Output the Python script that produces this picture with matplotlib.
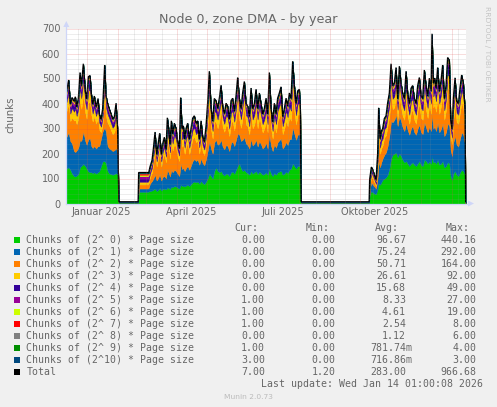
import matplotlib
matplotlib.use("Agg")
import matplotlib.pyplot as plt
import numpy as np
from matplotlib.patches import Rectangle, Polygon
from matplotlib.lines import Line2D

plt.rcParams['lines.scale_dashes'] = False

# ---------------- data (x = days since 11 Dec 2024) ----------------
DAYS = [0, 2.3, 4, 5.7, 7.7, 9, 10.3, 12, 13.7, 15, 17, 19, 20.3, 22, 23.7, 25, 26.3, 28, 29.7, 31.7,
        33, 34.7, 36.3, 38.3, 39.7, 41.3, 43, 44.7, 46.3, 48, 49.7, 51.3,
        52.5, 71.8,
        72.3, 81.5,
        82.3, 83.7, 85.7, 87, 88.7, 90.3, 92, 93.3, 95, 96.3, 98, 99.7, 101, 102.3, 103.7, 105, 106.3, 108,
        109.7, 111.3, 113, 114.3, 115.7, 117, 118.3, 119.7, 121.3, 123, 124.7, 126.3, 128, 129.7, 131.3, 133,
        134.7, 136.3, 138, 139.7, 141.3, 143, 144.7, 146.3, 148, 149.7, 151.3, 153, 154.7, 156.3, 158, 159.7,
        161.3, 163, 164.7, 166.3, 168, 169.7, 171.3, 173, 174.7, 176.3, 178, 179.7, 181.3, 183, 184.7, 186.3,
        188, 189.7, 191.3, 193, 194.7, 196.3, 198, 199.7, 201.3, 203, 204.7, 206.3, 208, 209.7, 211.3, 213,
        214.7, 216.3, 218, 219.7, 221.3, 223, 224.7, 226.3, 228, 229.7, 231.3, 233, 234,
        234.8, 302.8,
        303.3, 305, 306.3, 308, 309.7, 311.3, 312.3, 313.7, 315, 316.3, 318, 319.7, 321.3, 323, 324.7, 326.3,
        328, 329.7, 331.3, 333, 334.7, 336.3, 338, 339.7, 341.3, 343, 344.7, 346.3, 348, 349.7, 351.3, 353,
        354.7, 356.3, 358, 359.7, 361.3, 363, 364.7, 365.7, 367, 368.3, 369.7, 371.3, 373, 374.7, 376.3, 378,
        379.7, 381.3, 383, 384.3, 385.7, 387, 388.7, 390.3, 392, 393.7, 395.3, 397, 398.7,
        399.3, 400]

P0 = [140, 145, 135, 120, 110, 108, 112, 118, 145, 150, 158, 150, 140, 128, 125, 125, 122, 125, 120, 125,
      130, 150, 168, 170, 160, 130, 120, 118, 115, 118, 122, 115,
      0, 0, 47, 47,
      48, 50, 52, 55, 60, 50, 55, 62, 52, 58, 60, 56, 65, 62, 58, 68, 65, 70, 68, 64,
      60, 75, 70, 72, 68, 72, 75, 70, 78, 85, 88, 85, 88, 80, 90, 82, 78, 88, 100, 120,
      110, 100, 130, 145, 130, 125, 130, 118, 112, 120, 118, 110, 125, 128, 120, 135, 150, 160, 140, 130,
      135, 125, 122, 115, 130, 120, 125, 130, 118, 128, 122, 115, 118, 125, 115, 140, 120, 110, 122, 115,
      125, 128, 132, 115, 120, 128, 122, 135, 140, 160, 150, 140, 150, 150, 140,
      0, 0,
      35, 50, 45, 40, 38, 60, 80, 75, 85, 95, 100, 105, 115, 140, 180, 195, 200, 205, 185, 200,
      190, 175, 165, 170, 160, 150, 160, 165, 155, 150, 160, 170, 155, 150, 175, 170, 160, 168, 160, 190,
      165, 168, 160, 175, 155, 160, 170, 145, 150, 165, 160, 110, 95, 120, 130, 115, 110, 125, 135, 130,
      115,
      0, 0]

P1 = [125, 140, 115, 120, 100, 98, 100, 105, 110, 100, 130, 100, 95, 130, 135, 105, 100, 105, 100, 105,
      100, 110, 120, 135, 125, 100, 100, 98, 95, 95, 100, 85,
      0, 0, 13, 13,
      14, 30, 38, 45, 55, 42, 48, 55, 40, 48, 50, 45, 70, 62, 50, 68, 60, 65, 62, 55,
      50, 85, 68, 70, 62, 70, 75, 65, 75, 85, 90, 85, 88, 75, 90, 80, 75, 90, 110, 130,
      110, 100, 115, 110, 105, 115, 125, 110, 105, 115, 112, 100, 118, 120, 110, 120, 130, 115, 110, 125,
      130, 115, 112, 105, 128, 112, 115, 125, 110, 122, 115, 105, 110, 118, 105, 135, 112, 100, 115, 108,
      120, 125, 128, 105, 110, 118, 112, 122, 118, 145, 130, 115, 125, 128, 110,
      0, 0,
      20, 35, 32, 28, 22, 45, 90, 70, 80, 85, 95, 100, 115, 130, 150, 130, 135, 150, 125, 150,
      140, 130, 125, 150, 135, 125, 140, 145, 130, 125, 140, 145, 130, 128, 150, 135, 125, 140, 130, 170,
      135, 140, 130, 150, 130, 138, 150, 125, 135, 155, 150, 105, 95, 125, 140, 120, 118, 135, 150, 145,
      120,
      0, 0]

P2 = [102, 116, 80, 104, 122, 128, 106, 118, 158, 129, 151, 113, 104, 145, 148, 126, 106, 120, 100, 112,
      65, 25, 32, 134, 64, 93, 90, 77, 67, 73, 98, 45,
      0, 0, 16, 16,
      19, 25, 35, 63, 97, 56, 80, 93, 56, 74, 88, 64, 118, 101, 72, 111, 87, 105, 95, 69,
      60, 153, 89, 93, 68, 87, 94, 63, 79, 90, 90, 75, 77, 45, 75, 46, 41, 61, 99, 155,
      77, 60, 85, 70, 66, 90, 116, 80, 70, 80, 79, 60, 81, 83, 63, 85, 115, 60, 53, 92,
      119, 76, 75, 57, 105, 69, 76, 104, 73, 97, 79, 64, 73, 88, 64, 135, 69, 50, 79, 61,
      86, 94, 107, 57, 71, 85, 75, 90, 73, 141, 91, 61, 80, 81, 51,
      0, 0,
      11, 24, 23, 17, 9, 43, 121, 53, 57, 52, 70, 68, 84, 79, 111, 52, 50, 77, 29, 86,
      55, 46, 45, 96, 55, 44, 67, 65, 50, 44, 74, 84, 57, 57, 96, 70, 57, 91, 69, 170,
      84, 91, 77, 106, 74, 93, 118, 65, 90, 142, 145, 55, 46, 90, 129, 91, 91, 107, 121, 107,
      67,
      0, 0]

P3 = [35, 40, 30, 38, 35, 45, 32, 36, 50, 42, 55, 40, 38, 48, 48, 38, 32, 36, 30, 35,
      28, 22, 25, 50, 35, 34, 30, 28, 26, 27, 35, 22,
      0, 0, 11, 11,
      11, 15, 18, 22, 30, 20, 25, 30, 20, 24, 28, 22, 38, 32, 24, 36, 28, 34, 32, 25,
      22, 50, 30, 32, 25, 30, 32, 25, 28, 34, 35, 32, 33, 24, 32, 25, 22, 30, 40, 55,
      36, 30, 40, 38, 35, 40, 45, 36, 32, 38, 36, 30, 38, 40, 34, 40, 48, 38, 34, 42,
      46, 37, 36, 32, 44, 35, 37, 43, 35, 42, 37, 33, 35, 40, 33, 50, 35, 30, 37, 33,
      40, 42, 44, 32, 35, 40, 36, 42, 40, 55, 45, 37, 43, 43, 35,
      0, 0,
      10, 14, 13, 11, 9, 20, 40, 25, 28, 28, 32, 33, 38, 40, 52, 42, 43, 50, 36, 50,
      43, 40, 38, 50, 40, 36, 42, 43, 38, 36, 44, 46, 40, 38, 50, 43, 40, 46, 41, 65,
      44, 46, 42, 50, 41, 45, 51, 38, 43, 54, 53, 30, 27, 38, 46, 37, 36, 42, 47, 44,
      34,
      0, 0]

P4 = [22, 28, 20, 22, 22, 24, 20, 22, 32, 26, 35, 25, 22, 30, 30, 24, 20, 23, 20, 22,
      18, 15, 16, 35, 24, 22, 20, 19, 18, 18, 24, 15,
      0, 0, 13, 13,
      13, 12, 14, 16, 22, 14, 18, 20, 14, 17, 19, 15, 26, 22, 17, 25, 20, 24, 22, 18,
      15, 32, 22, 22, 18, 21, 23, 18, 20, 24, 25, 22, 23, 17, 22, 18, 16, 21, 28, 38,
      25, 20, 27, 25, 23, 27, 30, 24, 21, 25, 24, 20, 26, 26, 22, 27, 32, 25, 22, 28,
      31, 25, 24, 21, 29, 23, 25, 29, 23, 28, 25, 22, 23, 26, 22, 34, 23, 20, 25, 22,
      26, 28, 30, 21, 23, 26, 24, 28, 26, 37, 30, 25, 29, 29, 23,
      0, 0,
      8, 10, 10, 8, 7, 14, 26, 18, 20, 20, 22, 23, 26, 28, 36, 28, 29, 33, 24, 34,
      29, 27, 25, 34, 27, 24, 28, 29, 25, 24, 29, 31, 26, 25, 34, 29, 26, 31, 27, 45,
      29, 31, 28, 34, 27, 30, 35, 25, 29, 37, 36, 20, 18, 25, 31, 25, 24, 28, 32, 30,
      23,
      0, 0]

P5 = [10, 12, 9, 10, 10, 11, 9, 10, 14, 12, 15, 11, 10, 13, 13, 11, 9, 10, 9, 10,
      8, 7, 8, 15, 11, 10, 9, 9, 8, 8, 10, 7,
      1, 1, 9, 9,
      9, 7, 7, 8, 10, 7, 8, 9, 7, 8, 9, 7, 12, 10, 8, 11, 9, 11, 10, 8,
      7, 14, 10, 10, 8, 9, 10, 8, 9, 11, 11, 10, 10, 8, 10, 8, 7, 9, 12, 16,
      11, 9, 12, 11, 10, 12, 13, 11, 9, 11, 10, 9, 11, 12, 10, 12, 14, 11, 10, 12,
      13, 11, 10, 9, 13, 10, 11, 13, 10, 12, 11, 10, 10, 12, 10, 15, 10, 9, 11, 10,
      12, 12, 13, 9, 10, 12, 10, 12, 12, 16, 13, 11, 12, 13, 10,
      1, 1,
      5, 6, 6, 5, 4, 7, 12, 8, 9, 9, 10, 10, 11, 12, 15, 12, 12, 14, 10, 14,
      12, 11, 11, 14, 12, 10, 12, 12, 11, 10, 12, 13, 11, 11, 14, 12, 11, 13, 12, 19,
      12, 13, 12, 14, 12, 13, 15, 11, 12, 16, 15, 9, 8, 11, 13, 11, 10, 12, 14, 13,
      10,
      1, 1]

P6 = [6, 7, 5, 6, 6, 7, 5, 6, 8, 7, 8, 6, 6, 7, 7, 6, 5, 6, 5, 6,
      5, 4, 5, 8, 6, 6, 5, 5, 5, 5, 6, 4,
      1, 1, 6, 6,
      4, 4, 5, 5, 6, 4, 5, 6, 4, 5, 5, 4, 7, 6, 5, 6, 5, 6, 6, 5,
      4, 8, 6, 6, 5, 6, 6, 5, 6, 6, 6, 6, 6, 5, 6, 5, 5, 6, 7, 8,
      6, 6, 7, 6, 6, 7, 7, 6, 6, 6, 6, 5, 6, 6, 6, 7, 8, 6, 6, 7,
      7, 6, 6, 5, 7, 6, 6, 7, 6, 7, 6, 5, 6, 6, 5, 8, 6, 5, 6, 5,
      6, 7, 7, 5, 6, 6, 6, 7, 6, 8, 7, 6, 7, 7, 6,
      1, 1,
      3, 4, 4, 3, 3, 5, 7, 5, 6, 6, 6, 6, 7, 7, 8, 7, 7, 8, 6, 8,
      7, 7, 6, 8, 7, 6, 7, 7, 6, 6, 7, 8, 7, 6, 8, 7, 6, 7, 7, 10,
      7, 7, 7, 8, 6, 7, 8, 6, 7, 8, 8, 5, 5, 6, 7, 6, 6, 7, 8, 7,
      6,
      1, 1]

P7 = [3, 3, 3, 3, 3, 3, 2, 3, 4, 3, 4, 3, 3, 3, 3, 3, 2, 3, 2, 3,
      2, 2, 2, 4, 3, 3, 3, 3, 2, 2, 3, 2,
      1, 1, 5, 5,
      2, 2, 2, 3, 3, 2, 3, 3, 2, 3, 3, 2, 4, 3, 2, 3, 3, 3, 3, 2,
      2, 4, 3, 3, 3, 3, 3, 2, 3, 3, 3, 3, 3, 2, 3, 2, 2, 3, 3, 4,
      3, 3, 3, 3, 3, 3, 4, 3, 3, 3, 3, 3, 3, 3, 3, 3, 4, 3, 3, 3,
      4, 3, 3, 3, 3, 3, 3, 3, 3, 3, 3, 3, 3, 3, 3, 4, 3, 2, 3, 3,
      3, 3, 3, 3, 3, 3, 3, 3, 3, 4, 4, 3, 3, 3, 3,
      1, 1,
      2, 2, 2, 2, 2, 3, 4, 3, 3, 3, 3, 3, 3, 3, 4, 3, 3, 4, 3, 4,
      3, 3, 3, 4, 3, 3, 3, 3, 3, 3, 3, 4, 3, 3, 4, 3, 3, 3, 3, 5,
      3, 3, 3, 4, 3, 3, 4, 3, 3, 4, 4, 3, 3, 3, 4, 3, 3, 4, 4, 4,
      3,
      1, 1]

P8 = [2, 2, 1, 1, 1, 2, 1, 1, 2, 2, 2, 1, 1, 2, 2, 1, 1, 1, 1, 1,
      1, 1, 1, 2, 2, 1, 1, 1, 1, 1, 2, 1,
      0, 0, 2, 2,
      1, 1, 1, 1, 2, 1, 1, 2, 1, 1, 2, 1, 2, 2, 1, 2, 1, 2, 2, 1,
      1, 2, 1, 2, 1, 1, 2, 1, 1, 2, 2, 2, 2, 1, 2, 1, 1, 1, 2, 2,
      2, 1, 1, 2, 2, 1, 2, 1, 1, 2, 1, 1, 2, 2, 1, 1, 2, 2, 1, 2,
      2, 1, 2, 1, 2, 1, 1, 2, 1, 2, 1, 1, 1, 2, 1, 2, 1, 1, 2, 1,
      2, 2, 2, 1, 1, 2, 1, 2, 1, 2, 2, 2, 1, 2, 2,
      0, 0,
      1, 1, 1, 1, 1, 1, 2, 1, 1, 1, 1, 2, 2, 2, 2, 2, 2, 2, 1, 2,
      2, 1, 1, 2, 2, 1, 1, 2, 1, 1, 2, 2, 1, 1, 2, 2, 1, 2, 1, 3,
      2, 2, 1, 2, 1, 2, 2, 1, 2, 2, 2, 1, 1, 1, 2, 1, 1, 2, 2, 2,
      1,
      0, 0]

P9 = [1, 1, 1, 0, 1, 1, 0, 1, 1, 1, 1, 1, 0, 1, 1, 1, 0, 1, 0, 1,
      1, 0, 1, 1, 1, 1, 0, 1, 1, 0, 1, 0,
      1, 1, 1, 1,
      1, 1, 1, 0, 1, 0, 1, 1, 0, 1, 1, 0, 1, 1, 0, 1, 1, 1, 1, 0,
      0, 1, 1, 1, 0, 1, 1, 0, 1, 1, 1, 1, 1, 0, 1, 0, 0, 1, 1, 1,
      1, 1, 0, 1, 1, 1, 1, 0, 1, 1, 1, 0, 1, 1, 1, 0, 1, 1, 1, 1,
      1, 1, 0, 1, 1, 1, 0, 1, 1, 1, 1, 0, 1, 1, 0, 1, 1, 0, 1, 1,
      1, 1, 1, 0, 1, 1, 1, 1, 1, 1, 1, 1, 0, 1, 0,
      1, 1,
      0, 0, 1, 0, 0, 1, 1, 1, 1, 0, 1, 1, 1, 1, 1, 1, 1, 1, 0, 1,
      1, 1, 1, 1, 0, 1, 1, 1, 1, 1, 0, 1, 1, 1, 1, 1, 1, 0, 1, 2,
      1, 1, 1, 1, 0, 1, 1, 1, 1, 1, 1, 0, 0, 1, 1, 1, 1, 1, 1, 1,
      0,
      1, 1]

P10 = [0, 0, 0, 0, 0, 0, 0, 0, 0, 0, 0, 0, 0, 0, 0, 0, 0, 0, 0, 0,
       0, 0, 0, 0, 0, 0, 0, 0, 0, 0, 0, 0,
       3, 3, 1, 1,
       0, 0, 0, 0, 0, 0, 0, 0, 0, 0, 0, 0, 0, 0, 0, 0, 0, 0, 0, 0,
       0, 0, 0, 0, 0, 0, 0, 0, 0, 0, 0, 0, 0, 0, 0, 0, 0, 0, 0, 0,
       0, 0, 0, 0, 0, 0, 0, 0, 0, 0, 0, 0, 0, 0, 0, 0, 0, 0, 0, 0,
       0, 0, 0, 0, 0, 0, 0, 0, 0, 0, 0, 0, 0, 0, 0, 0, 0, 0, 0, 0,
       0, 0, 0, 0, 0, 0, 0, 0, 0, 0, 0, 0, 0, 0, 0,
       3, 3,
       0, 0, 0, 0, 0, 0, 0, 0, 0, 0, 0, 0, 0, 0, 0, 0, 0, 0, 0, 0,
       0, 0, 0, 0, 0, 0, 0, 0, 0, 0, 0, 0, 0, 0, 0, 0, 0, 0, 0, 0,
       0, 0, 0, 0, 0, 0, 0, 0, 0, 0, 0, 0, 0, 0, 0, 0, 0, 0, 0, 0,
       0,
       3, 3]

SERIES_LABELS = ["Chunks of (2^ 0) * Page size", "Chunks of (2^ 1) * Page size",
                 "Chunks of (2^ 2) * Page size", "Chunks of (2^ 3) * Page size",
                 "Chunks of (2^ 4) * Page size", "Chunks of (2^ 5) * Page size",
                 "Chunks of (2^ 6) * Page size", "Chunks of (2^ 7) * Page size",
                 "Chunks of (2^ 8) * Page size", "Chunks of (2^ 9) * Page size",
                 "Chunks of (2^10) * Page size", "Total"]
CUR = ["0.00", "0.00", "0.00", "0.00", "0.00", "1.00", "1.00", "1.00", "0.00", "1.00", "3.00", "7.00"]
MIN = ["0.00"] * 11 + ["1.20"]
AVG = ["96.67", "75.24", "50.71", "26.61", "15.68", "8.33", "4.61", "2.54", "1.12", "781.74m", "716.86m", "283.00"]
MAX = ["440.16", "292.00", "164.00", "92.00", "49.00", "27.00", "19.00", "8.00", "6.00", "4.00", "3.00", "966.68"]

MONTH_DAYS = [21, 52, 80, 111, 141, 172, 202, 233, 264, 294, 325, 355, 386]
MINOR_DAYS = [12, 40, 68, 96, 125, 153, 181, 222, 250, 279, 307, 335, 364, 392]
XLABELS = ["Januar 2025", "April 2025", "Juli 2025", "Oktober 2025"]
XLABEL_DAYS = [35, 125, 216, 308]

COLORS = ['#00CC00', '#0066B3', '#FF8000', '#FFCC00', '#330099', '#990099',
          '#CCFF00', '#FF0000', '#808080', '#008F00', '#00487D', '#000000']

# ---------------- figure ----------------
W, H, DPI = 497, 407, 100
FC = '#666666'
fig = plt.figure(figsize=(W / DPI, H / DPI), dpi=DPI, facecolor='#F0F0F0')


def fx(px):
    return px / W


def fy(py):
    return 1 - py / H


AX_L, AX_R, AX_T, AX_B = 66.3, 466.3, 28.5, 203.5
ax = fig.add_axes([fx(AX_L), fy(AX_B), (AX_R - AX_L) / W, (AX_B - AX_T) / H])
ax.set_xlim(0, 400)
ax.set_ylim(0, 700)
ax.set_facecolor('white')
for s in ax.spines.values():
    s.set_visible(False)

layers = [P0, P1, P2, P3, P4, P5, P6, P7, P8, P9, P10]
days = np.array(DAYS, dtype=float)
polys = ax.stackplot(days, *[np.array(l, dtype=float) for l in layers], colors=COLORS[:11],
                     linewidth=0.3, zorder=1)
for p, c in zip(polys, COLORS):
    p.set_edgecolor(c)
total = np.sum(np.array(layers, dtype=float), axis=0)
ax.plot(days, total, color='black', lw=0.9, zorder=2, solid_joinstyle='miter')

dot = dict(linestyle=(0, (0.72, 0.72)), linewidth=0.72, clip_on=False, snap=True)
GRIDC = (0.56, 0.56, 0.56, 0.32)
MGRIDC = (0.87, 0.31, 0.31, 0.38)
for v in range(20, 700, 20):
    if v % 100:
        ax.axhline(v, color=GRIDC, zorder=5, **dot)
for d in MINOR_DAYS:
    ax.axvline(d, color=GRIDC, zorder=5, **dot)
for v in range(100, 701, 100):
    ax.axhline(v, color=MGRIDC, zorder=6, **dot)
for d in MONTH_DAYS:
    ax.axvline(d, color=MGRIDC, zorder=6, **dot)

ax.set_xticks([])
ax.set_yticks(range(0, 701, 100))
ax.tick_params(axis='y', length=0, pad=4.4, labelsize=7, labelcolor=FC)

# axes with arrows
AXC = '#CFD6F8'
fig.add_artist(Line2D([fx(AX_L), fx(468.5)], [fy(AX_B), fy(AX_B)], transform=fig.transFigure,
                      color=AXC, lw=0.9))
fig.add_artist(Line2D([fx(AX_L), fx(AX_L)], [fy(AX_B), fy(26)], transform=fig.transFigure,
                      color=AXC, lw=0.9))
fig.add_artist(Polygon([(fx(468), fy(AX_B - 3)), (fx(474), fy(AX_B)), (fx(468), fy(AX_B + 3))],
                       closed=True, transform=fig.transFigure, color=AXC, lw=0))
fig.add_artist(Polygon([(fx(AX_L - 3), fy(27)), (fx(AX_L), fy(21)), (fx(AX_L + 3), fy(27))],
                       closed=True, transform=fig.transFigure, color=AXC, lw=0))

for lab, d in zip(XLABELS, XLABEL_DAYS):
    fig.text(fx(AX_L + d), fy(215.4), lab, ha='center', va='baseline', fontsize=7, color=FC)

fig.text(fx(248.3), fy(23.2), "Node 0, zone DMA - by year", ha='center', va='baseline',
         fontsize=9.2, color=FC)
fig.text(fx(10.3), fy(115), "chunks", rotation=90, ha='center', va='center', fontsize=7.4, color=FC)
fig.text(fx(487.3), fy(53.4), "RRDTOOL / TOBI OETIKER", rotation=270, ha='center', va='center',
         fontsize=5.4, color='#c4c4c4')

# legend
MONO = 'DejaVu Sans Mono'
FS = 7.15
for hdr, xr in zip(["Cur:", "Min:", "Avg:", "Max:"], [258.3, 329.3, 399.3, 470]):
    fig.text(fx(xr), fy(231), hdr, ha='right', va='baseline', family=MONO, fontsize=FS, color=FC)

for i, lab in enumerate(SERIES_LABELS):
    yb = 243 + 12 * i
    fig.add_artist(Rectangle((fx(14), fy(yb - 0.3)), 6 / W, 6 / H, transform=fig.transFigure,
                             facecolor=COLORS[i], edgecolor='none'))
    fig.text(fx(26.3), fy(yb), lab, ha='left', va='baseline', family=MONO, fontsize=FS, color=FC)
    for val, xr in zip([CUR[i], MIN[i], AVG[i], MAX[i]], [265, 335.7, 406, 476.7]):
        xx = xr + (5.97 if val.endswith('m') else 0)
        fig.text(fx(xx), fy(yb), val, ha='right', va='baseline', family=MONO, fontsize=FS, color=FC)

fig.text(fx(482.7), fy(387), "Last update: Wed Jan 14 01:00:08 2026", ha='right', va='baseline',
         family=MONO, fontsize=FS, color=FC)
fig.text(fx(248), fy(399.3), "Munin 2.0.73", ha='center', va='baseline', fontsize=5.4, color='#bbbbbb')

fig.savefig("out.png", dpi=DPI, facecolor=fig.get_facecolor())
